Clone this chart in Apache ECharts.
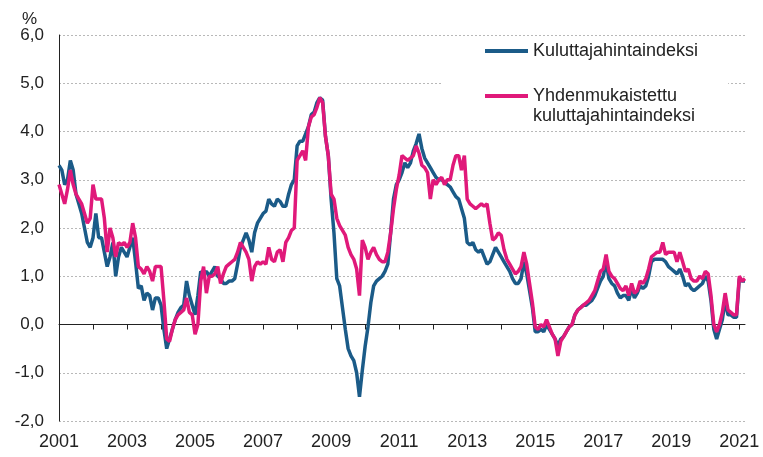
<!DOCTYPE html>
<html lang="fi">
  <head>
    <meta charset="UTF-8" />
    <title>Kuluttajahintaindeksi</title>
    <script src="https://cdn.jsdelivr.net/npm/echarts@6/dist/echarts.min.js"></script>
    <style>
      html, body { margin: 0; padding: 0; background: #fff; }
      #main { width: 763px; height: 457px; }
    </style>
  </head>
  <body>
    <div id="main"></div>
    <script type="text/javascript">
      // vuosimuutos %, kuukausittain 1/2001 - 3/2021
      var years = [2001, 2002, 2003, 2004, 2005, 2006, 2007, 2008, 2009, 2010, 2011,
        2012, 2013, 2014, 2015, 2016, 2017, 2018, 2019, 2020, 2021];
      var lastYearMonths = 3;

      var cpi = [
        3.3, 3.2, 2.9, 3.0, 3.4, 3.2, 2.7, 2.5, 2.3, 2.0, 1.7, 1.6,        // 2001
        1.8, 2.3, 1.8, 1.8, 1.5, 1.2, 1.4, 1.7, 1.0, 1.4, 1.6, 1.5,        // 2002
        1.4, 1.6, 1.8, 1.3, 0.75, 0.8, 0.5, 0.65, 0.6, 0.3, 0.55, 0.55,    // 2003
        0.4, -0.1, -0.5, -0.3, -0.1, 0.1, 0.25, 0.35, 0.4, 0.9, 0.6, 0.4,  // 2004
        0.2, 0.6, 1.1, 1.05, 1.1, 1.0, 1.1, 1.2, 1.0, 0.95, 0.85, 0.85,    // 2005
        0.9, 0.9, 0.95, 1.25, 1.6, 1.75, 1.9, 1.75, 1.5, 1.9, 2.1, 2.2,    // 2006
        2.3, 2.35, 2.6, 2.5, 2.45, 2.6, 2.55, 2.45, 2.45, 2.7, 2.9, 3.0,   // 2007
        3.7, 3.8, 3.8, 3.95, 4.1, 4.35, 4.4, 4.6, 4.7, 4.65, 3.9, 3.5,     // 2008
        2.6, 1.9, 0.95, 0.8, 0.35, -0.1, -0.5, -0.65, -0.75, -1.0, -1.5, -0.95, // 2009
        -0.45, -0.05, 0.45, 0.8, 0.9, 0.95, 1.0, 1.1, 1.25, 1.9, 2.6, 2.9, // 2010
        3.0, 3.15, 3.35, 3.25, 3.35, 3.6, 3.75, 3.95, 3.65, 3.45, 3.35, 3.25, // 2011
        3.15, 3.05, 3.0, 3.0, 2.95, 2.9, 2.85, 2.75, 2.65, 2.6, 2.4, 2.2,  // 2012
        1.7, 1.65, 1.7, 1.55, 1.5, 1.55, 1.4, 1.25, 1.3, 1.45, 1.6, 1.5,   // 2013
        1.4, 1.3, 1.2, 1.1, 0.95, 0.85, 0.85, 0.95, 1.3, 1.05, 0.7, 0.35,  // 2014
        -0.15, -0.15, -0.1, -0.15, 0.0, -0.1, -0.2, -0.3, -0.45, -0.3, -0.25, -0.15, // 2015
        -0.05, 0.0, 0.2, 0.3, 0.35, 0.4, 0.4, 0.45, 0.5, 0.6, 0.75, 0.9,   // 2016
        1.0, 1.3, 0.95, 0.85, 0.8, 0.65, 0.55, 0.6, 0.6, 0.5, 0.75, 0.55,  // 2017
        0.65, 0.8, 0.75, 0.8, 1.0, 1.3, 1.35, 1.35, 1.35, 1.35, 1.3, 1.2,  // 2018
        1.15, 1.1, 1.05, 1.15, 1.0, 0.8, 0.85, 0.75, 0.7, 0.75, 0.8, 0.85, // 2019
        1.0, 0.9, 0.5, -0.1, -0.3, -0.1, 0.1, 0.5, 0.2, 0.2, 0.15, 0.15,   // 2020
        0.95, 0.9, 0.9                                                     // 2021
      ];

      var hicp = [
        2.9, 2.7, 2.5, 2.8, 3.2, 2.9, 2.7, 2.6, 2.5, 2.3, 2.1, 2.2,        // 2001
        2.9, 2.6, 2.6, 2.6, 2.2, 1.5, 2.0, 1.8, 1.4, 1.7, 1.65, 1.7,       // 2002
        1.6, 1.7, 2.1, 1.8, 1.2, 1.15, 1.05, 1.2, 1.1, 0.9, 1.2, 1.2,      // 2003
        1.2, 0.5, -0.3, -0.35, -0.1, 0.1, 0.2, 0.25, 0.3, 0.55, 0.25, 0.2, // 2004
        -0.2, 0.0, 0.9, 1.2, 0.65, 1.0, 1.0, 1.05, 1.2, 0.85, 1.05, 1.2,   // 2005
        1.25, 1.3, 1.35, 1.5, 1.7, 1.6, 1.5, 1.35, 0.9, 1.2, 1.3, 1.25,    // 2006
        1.3, 1.25, 1.6, 1.35, 1.3, 1.5, 1.55, 1.3, 1.7, 1.8, 1.95, 2.0,    // 2007
        3.4, 3.5, 3.6, 3.4, 4.1, 4.3, 4.35, 4.5, 4.7, 4.6, 3.9, 3.5,       // 2008
        2.7, 2.6, 2.2, 2.05, 1.95, 1.85, 1.6, 1.45, 1.35, 1.15, 0.6, 1.75, // 2009
        1.6, 1.35, 1.5, 1.6, 1.45, 1.35, 1.3, 1.3, 1.5, 1.9, 2.4, 2.8,     // 2010
        3.1, 3.5, 3.45, 3.4, 3.45, 3.5, 3.7, 3.55, 3.3, 3.25, 3.15, 2.6,   // 2011
        3.0, 2.9, 3.0, 3.05, 2.9, 3.0, 3.0, 3.3, 3.5, 3.5, 3.2, 3.5,       // 2012
        2.6, 2.5, 2.45, 2.4, 2.45, 2.5, 2.45, 2.5, 2.1, 1.75, 1.8, 1.9,    // 2013
        1.85, 1.55, 1.35, 1.25, 1.15, 1.05, 1.1, 1.2, 1.5, 1.25, 0.85, 0.45, // 2014
        -0.05, -0.1, 0.0, -0.05, 0.1, -0.05, -0.2, -0.3, -0.65, -0.35, -0.25, -0.15, // 2015
        -0.05, 0.0, 0.2, 0.3, 0.35, 0.4, 0.45, 0.5, 0.6, 0.7, 0.9, 1.1,    // 2016
        1.15, 1.45, 1.1, 1.0, 0.95, 0.85, 0.75, 0.7, 0.8, 0.6, 0.85, 0.65, // 2017
        0.7, 0.9, 0.85, 0.95, 1.15, 1.4, 1.45, 1.5, 1.5, 1.7, 1.45, 1.5,   // 2018
        1.5, 1.5, 1.3, 1.5, 1.3, 1.1, 1.15, 0.95, 0.9, 0.9, 1.0, 0.95,     // 2019
        1.1, 1.05, 0.6, 0.0, -0.15, 0.0, 0.25, 0.65, 0.3, 0.25, 0.2, 0.2,  // 2020
        1.0, 0.9, 0.95                                                     // 2021
      ];

      var seriesNames = ["Kuluttajahintaindeksi", "Yhdenmukaistettu\nkuluttajahintaindeksi"];
      var seriesColors = ["#1b5b88", "#e0197a"];

      var months = [];
      years.forEach(function (y, i) {
        var n = i === years.length - 1 ? lastYearMonths : 12;
        for (var m = 1; m <= n; m++) {
          months.push(y + "-" + (m < 10 ? "0" + m : m));
        }
      });

      var chart = echarts.init(document.getElementById("main"));
      var font = "'Liberation Sans', Arial, sans-serif";

      var option = {
        animation: false,
        textStyle: { fontFamily: font },
        title: {
          text: "%",
          left: 17,
          top: 6,
          textStyle: { fontSize: 17, fontWeight: "normal", color: "#222", fontFamily: font }
        },
        legend: {
          orient: "vertical",
          left: 443,
          top: 38,
          padding: [3, 30, 4, 42],
          backgroundColor: "#fff",
          itemWidth: 43,
          itemHeight: 4,
          itemGap: 5,
          icon: "rect",
          // a blank first line keeps the icon beside the first line of a two-line name
          formatter: function (name) {
            return name.indexOf("\n") > -1 ? " \n" + name : name;
          },
          textStyle: { fontSize: 18, lineHeight: 20, color: "#222", fontFamily: font },
          data: seriesNames
        },
        grid: { left: 59, right: 18, top: 35, bottom: 36 },
        xAxis: {
          type: "category",
          data: months,
          boundaryGap: false,
          axisLine: { lineStyle: { color: "#222", width: 1 } },
          axisTick: {
            length: 5,
            lineStyle: { color: "#222" },
            interval: function (index) { return index % 12 === 0; }
          },
          axisLabel: {
            interval: function (index) { return index % 24 === 0; },
            formatter: function (v) { return v.slice(0, 4); },
            fontSize: 18,
            color: "#222",
            margin: 12,
            fontFamily: font
          },
          splitLine: { show: false }
        },
        yAxis: {
          type: "value",
          min: -2,
          max: 6,
          interval: 1,
          axisLine: { show: true, lineStyle: { color: "#222", width: 1 } },
          axisTick: { show: false },
          axisLabel: {
            formatter: function (v) { return v.toFixed(1).replace(".", ","); },
            fontSize: 17,
            color: "#222",
            margin: 15,
            fontFamily: font
          },
          splitLine: { lineStyle: { color: "#b8b8b8", type: [2, 2], width: 1 } }
        },
        series: [
          {
            name: seriesNames[0],
            type: "line",
            data: cpi,
            symbol: "none",
            color: seriesColors[0],
            lineStyle: { width: 3.5, color: seriesColors[0] }
          },
          {
            name: seriesNames[1],
            type: "line",
            data: hicp,
            symbol: "none",
            color: seriesColors[1],
            lineStyle: { width: 3.5, color: seriesColors[1] }
          }
        ]
      };

      chart.setOption(option);
    </script>
  </body>
</html>
